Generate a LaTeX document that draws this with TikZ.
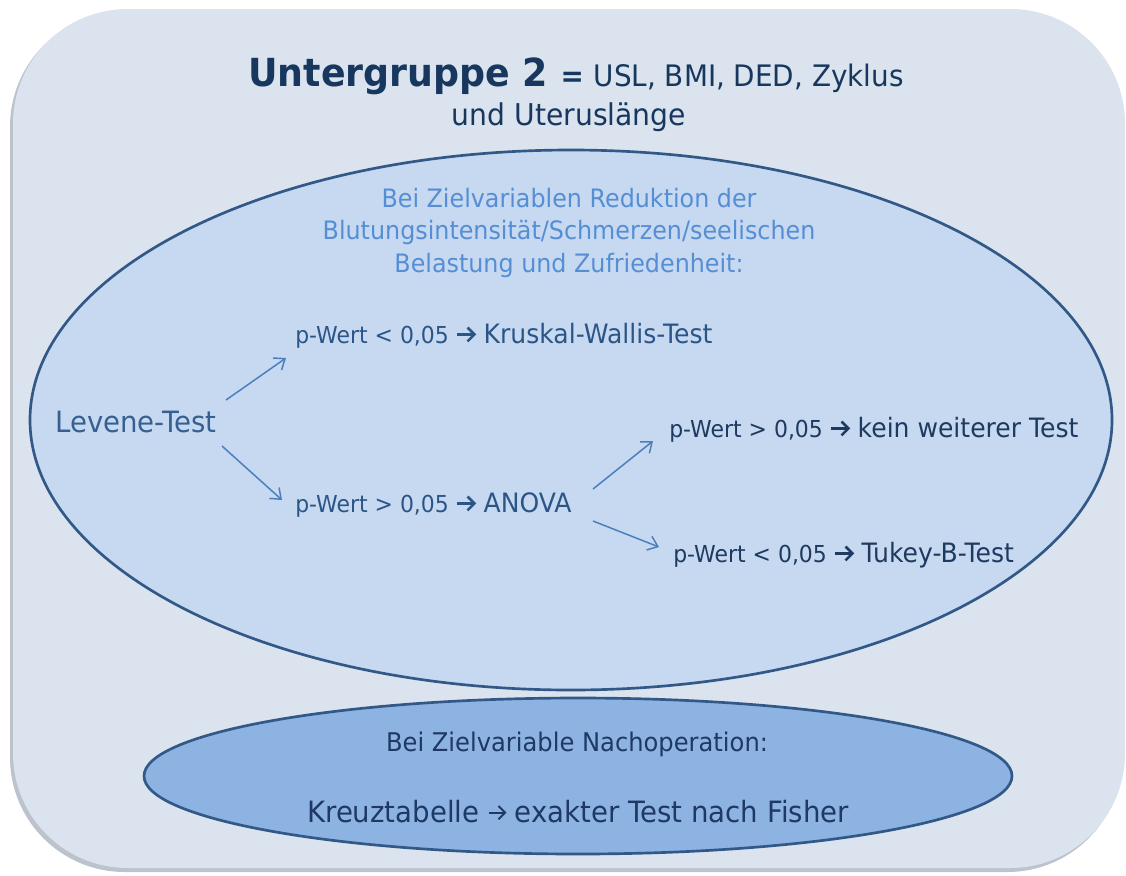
\documentclass[tikz,border=0pt]{standalone}
\usepackage{fontspec}
\setmainfont{DejaVu Sans}[FakeStretch=0.94]
\usetikzlibrary{arrows.meta,calc,shapes.geometric}
\definecolor{bgc}{RGB}{218,227,238}
\definecolor{shadowc}{RGB}{188,195,205}
\definecolor{bigfill}{RGB}{198,217,240}
\definecolor{smallfill}{RGB}{141,179,226}
\definecolor{borderc}{RGB}{50,88,136}
\definecolor{arrowc}{RGB}{74,126,190}
\definecolor{headc}{RGB}{85,142,213}
\definecolor{titlec}{RGB}{23,55,94}
\definecolor{levc}{RGB}{55,96,146}
\definecolor{leftc}{RGB}{44,85,135}
\definecolor{rightc}{RGB}{31,58,96}
\definecolor{botc}{RGB}{31,56,100}
\newcommand\fsz[2]{\fontsize{#1}{#2}\selectfont}
% chevron arrow as in the reference text: [line width]{head size}{length}
\newcommand\rarr[3][1.9pt]{\tikz[baseline=-0.32em,line width=#1]{\draw (0pt,0pt) -- (#3-0.5pt,0pt);\draw[line join=miter] (#3-#2,#2) -- (#3,0pt) -- (#3-#2,-#2);}}
\tikzset{
  ellbox/.style={ellipse, draw=borderc, line width=2pt, inner sep=0pt},
  txt/.style={inner sep=0pt, anchor=base west},
  conn/.style={draw=arrowc, line width=1.1pt, -{Straight Barb[length=7pt,width=11pt,line width=1.1pt]}},
}
\begin{document}
\begin{tikzpicture}[x=0.75pt,y=-0.75pt]
\useasboundingbox (0,0) rectangle (1126,875);
\fill[white] (0,0) rectangle (1126,875);
% background panel
\fill[shadowc, rounded corners=86pt] (10,12) rectangle (1122,872);
\fill[bgc, rounded corners=86pt] (13,9) rectangle (1125,868);
% title
\node[txt, text=titlec] (title) at (248,86) {\fsz{29}{34}\bfseries Untergruppe 2 \fsz{22.2}{28}= \mdseries USL, BMI, DED, Zyklus};
\node[inner sep=0pt, anchor=base, text=titlec] (title2) at (569,125) {\fsz{22.5}{28}und Uteruslänge};
% big ellipse
\node[ellbox, fill=bigfill, minimum width=811.5pt, minimum height=405pt] (big) at (571,420) {};
\node[inner sep=0pt, align=center, text=headc, anchor=center, font=\fsz{19}{24.6}] (head) at (569,233) {Bei Zielvariablen Reduktion der\\Blutungsintensität/Schmerzen/seelischen\\Belastung und Zufriedenheit:};
\node[txt, text=levc] (lev) at (55,432) {\fsz{22}{26}Levene-Test};
\node[txt, text=leftc] (kw) at (295,343) {\fsz{17.5}{22}p-Wert < 0,05 \fsz{20}{24}{\rarr{5.2pt}{13pt}} Kruskal-Wallis-Test};
\node[txt, text=leftc] (anova) at (295,512) {\fsz{17.5}{22}p-Wert > 0,05 \fsz{20}{24}{\rarr{5.2pt}{13pt}} ANOVA};
\node[txt, text=rightc] (kein) at (669,437) {\fsz{17.5}{22}p-Wert > 0,05 \fsz{20}{24}{\rarr{5.2pt}{13pt}} kein weiterer Test};
\node[txt, text=rightc] (tukey) at (673,562) {\fsz{17.5}{22}p-Wert < 0,05 \fsz{20}{24}{\rarr{5.2pt}{13pt}} Tukey-B-Test};
% connector end points
\coordinate (lev-o1) at (226,400);
\coordinate (kw-i) at (286,358);
\coordinate (lev-o2) at (222,446);
\coordinate (anova-i) at (282,500);
\coordinate (anova-o1) at (593,489);
\coordinate (kein-i) at (653,441);
\coordinate (anova-o2) at (593,521);
\coordinate (tukey-i) at (659,547);
\draw[conn] (lev-o1) -- (kw-i);
\draw[conn] (lev-o2) -- (anova-i);
\draw[conn] (anova-o1) -- (kein-i);
\draw[conn] (anova-o2) -- (tukey-i);
% bottom ellipse
\node[ellbox, fill=smallfill, minimum width=651pt, minimum height=117pt] (small) at (578,776) {};
\node[inner sep=0pt, anchor=base, text=botc] (nach) at (577,751) {\fsz{19.3}{24}Bei Zielvariable Nachoperation:};
\node[inner sep=0pt, anchor=base, text=botc] (kreuz) at (578,822) {\fsz{22}{26}Kreuztabelle {\rarr[1.4pt]{5pt}{12pt}} exakter Test nach Fisher};
\end{tikzpicture}
\end{document}
